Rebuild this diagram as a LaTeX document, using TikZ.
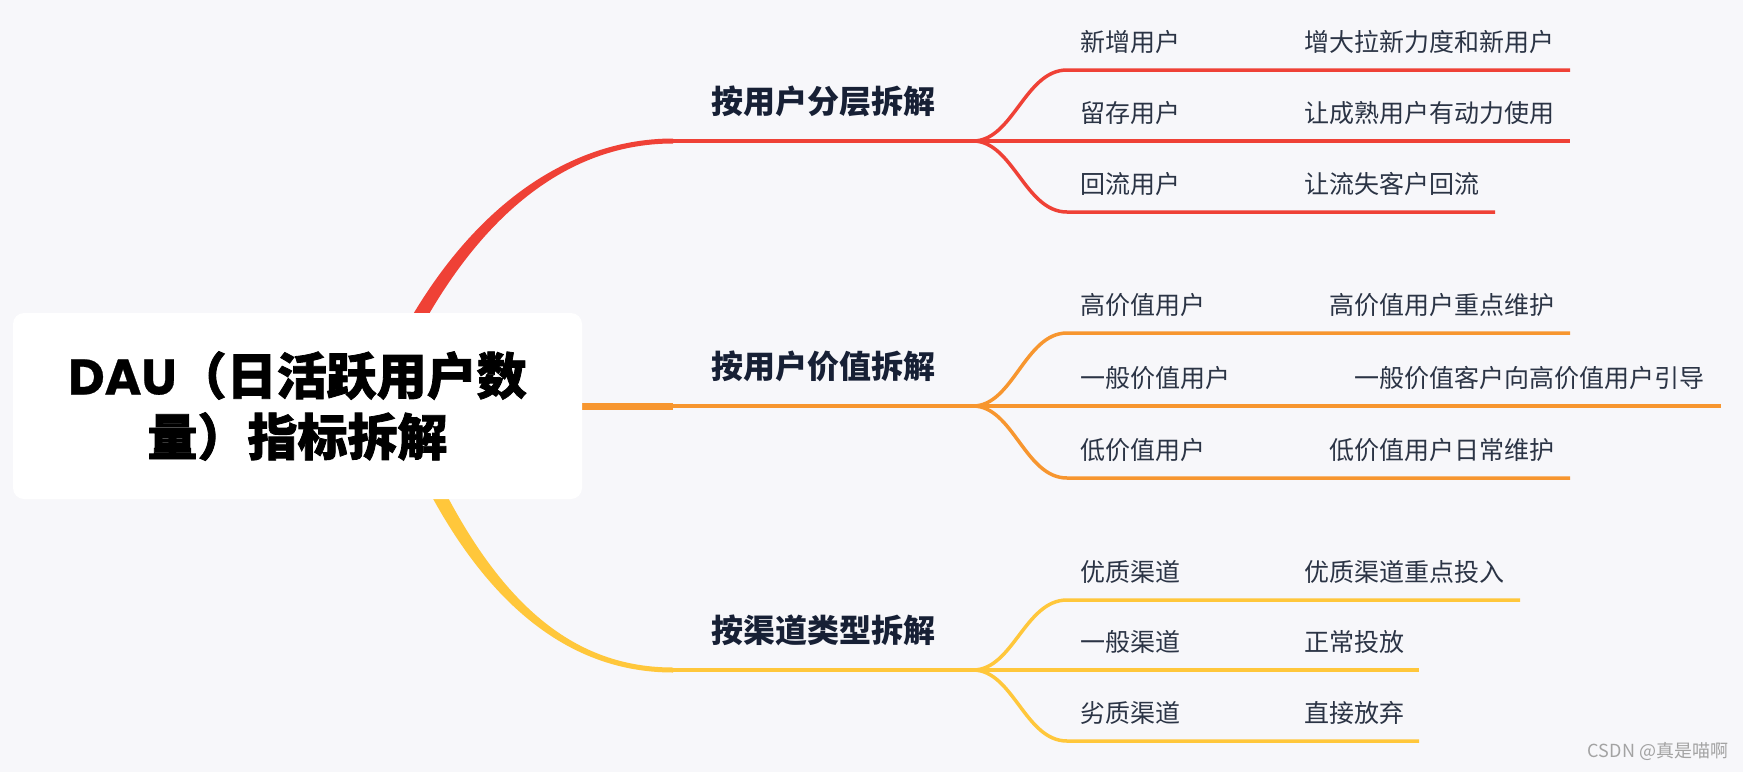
\documentclass[tikz,border=0pt]{standalone}
\usepackage{fontspec}
\setmainfont{Noto Sans CJK SC}
\newfontfamily\popb{Poppins}[BoldFeatures={FakeBold=0.6}]
\newfontfamily\rootcjk{Noto Sans CJK SC}[BoldFeatures={FakeBold=1.6}]
\definecolor{cred}{HTML}{EF4136}
\definecolor{corange}{HTML}{F7962F}
\definecolor{cyellow}{HTML}{FFC73B}
\definecolor{bgc}{HTML}{F7F7FA}
\definecolor{lvone}{HTML}{172035}
\definecolor{lvtwo}{HTML}{2B3445}
\definecolor{wm}{HTML}{A3A3A3}
\begin{document}
\begin{tikzpicture}[x=1pt,y=-1pt,
  rootbox/.style={fill=white, rounded corners=11pt, minimum width=569pt, minimum height=186pt, inner sep=0pt, align=center, text=black, font=\fontsize{50}{61}\selectfont\rootcjk\bfseries},
  lone/.style={font=\fontsize{32}{38}\selectfont\bfseries, text=lvone, inner sep=0pt, anchor=base},
  ltwo/.style={font=\fontsize{25}{30}\selectfont, text=lvtwo, inner sep=0pt, anchor=base west},
  edgeline/.style={line width=3.5pt}
]
\fill[bgc] (0,0) rectangle (1743,772);
\useasboundingbox (0,0) rectangle (1743,772);

% coordinates
\coordinate (r0) at (673,141);   \coordinate (rj) at (973,141);
\coordinate (o0) at (673,406);   \coordinate (oj) at (973,406);
\coordinate (y0) at (673,670);   \coordinate (yj) at (973,670);

\coordinate (r1e) at (1570,70);  \coordinate (r2e) at (1570,141); \coordinate (r3e) at (1495,212);
\coordinate (o1e) at (1570,333); \coordinate (o2e) at (1721,406); \coordinate (o3e) at (1570,478);
\coordinate (y1e) at (1520,600); \coordinate (y2e) at (1419,670); \coordinate (y3e) at (1419,741);

% main tapered branches
\fill[cred] (368,406) .. controls (443,220) and (560,138.5) .. (673,138.5) -- (673,143.5) .. controls (560,143.5) and (458,226) .. (384,406) -- cycle;
\fill[cyellow] (390,406) .. controls (463,592) and (560,672.5) .. (673,672.5) -- (673,667.5) .. controls (560,667.5) and (478,586) .. (406,406) -- cycle;
\fill[corange] (560,402.5) rectangle (673,409.5);

% level-1 lines
\draw[cred, edgeline] (r0) -- (rj);
\draw[corange, edgeline] (o0) -- (oj);
\draw[cyellow, edgeline] (y0) -- (yj);

% level-2 lines
\draw[cred, edgeline] (rj) .. controls (1013,141) and (1025,70) .. (1067,70) -- (r1e);
\draw[cred, edgeline] (rj) -- (r2e);
\draw[cred, edgeline] (rj) .. controls (1013,141) and (1025,212) .. (1067,212) -- (r3e);

\draw[corange, edgeline] (oj) .. controls (1013,406) and (1025,333) .. (1067,333) -- (o1e);
\draw[corange, edgeline] (oj) -- (o2e);
\draw[corange, edgeline] (oj) .. controls (1013,406) and (1025,478) .. (1067,478) -- (o3e);

\draw[cyellow, edgeline] (yj) .. controls (1013,670) and (1025,600) .. (1067,600) -- (y1e);
\draw[cyellow, edgeline] (yj) -- (y2e);
\draw[cyellow, edgeline] (yj) .. controls (1013,670) and (1025,741) .. (1067,741) -- (y3e);

% root
\node[rootbox] (root) at (297.5,406) {{\popb\bfseries DAU}（日活跃用户数\\量）指标拆解};

% level-1 labels
\node[lone] (b1) at (823,113) {按用户分层拆解};
\node[lone] (b2) at (823,378) {按用户价值拆解};
\node[lone] (b3) at (823,642) {按渠道类型拆解};

% level-2 and level-3 labels
\node[ltwo] (r1) at (1080,51) {新增用户};
\node[ltwo] (r1x) at (1304,51) {增大拉新力度和新用户};
\node[ltwo] (r2) at (1080,122) {留存用户};
\node[ltwo] (r2x) at (1304,122) {让成熟用户有动力使用};
\node[ltwo] (r3) at (1080,193) {回流用户};
\node[ltwo] (r3x) at (1304,193) {让流失客户回流};

\node[ltwo] (o1) at (1080,314) {高价值用户};
\node[ltwo] (o1x) at (1329,314) {高价值用户重点维护};
\node[ltwo] (o2) at (1080,387) {一般价值用户};
\node[ltwo] (o2x) at (1354,387) {一般价值客户向高价值用户引导};
\node[ltwo] (o3) at (1080,459) {低价值用户};
\node[ltwo] (o3x) at (1329,459) {低价值用户日常维护};

\node[ltwo] (y1) at (1080,581) {优质渠道};
\node[ltwo] (y1x) at (1304,581) {优质渠道重点投入};
\node[ltwo] (y2) at (1080,651) {一般渠道};
\node[ltwo] (y2x) at (1304,651) {正常投放};
\node[ltwo] (y3) at (1080,722) {劣质渠道};
\node[ltwo] (y3x) at (1304,722) {直接放弃};

% watermark
\node[text=wm, font=\fontsize{18}{20}\selectfont, inner sep=0pt] (wmk) at (1658,751) {CSDN @真是喵啊};
\end{tikzpicture}
\end{document}
